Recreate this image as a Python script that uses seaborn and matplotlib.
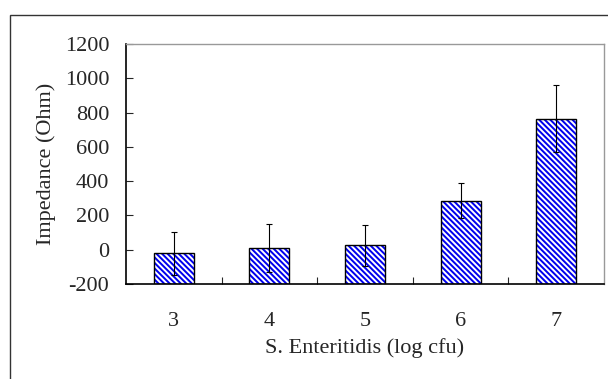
#!/usr/bin/env python3
# -*- coding: utf-8 -*-
"""
Impedance response vs S. Enteritidis concentration, hatched bars with error bars
"""

import matplotlib.pyplot as plt
import numpy as np
import pandas as pd
import seaborn as sns
from matplotlib.patches import Rectangle
from matplotlib.ticker import FixedLocator

# data
log_cfu = ["3", "4", "5", "6", "7"]
impedance = [-20, 10, 25, 285, 765]
impedance_err = [125, 140, 120, 102, 197]
y_ticks = [-200, 0, 200, 400, 600, 800, 1000, 1200]
baseline = -200

sns.set_style("white")
plt.rcParams["font.family"] = ["Liberation Serif", "DejaVu Serif"]
plt.rcParams["hatch.linewidth"] = 1.4

df = pd.DataFrame({"cfu": log_cfu, "imp": impedance})

fig = plt.figure(figsize=(6.08, 3.79), dpi=100)
ax = fig.add_axes([126 / 608, 1 - 284 / 379, (604 - 126) / 608, (284 - 44) / 379])

# blue face with white stripes
sns.barplot(
    data=df, x="cfu", y="imp", ax=ax, color="#0000ee", saturation=1,
    width=0.42, errorbar=None, hatch="\\" * 6, edgecolor="white", linewidth=0,
)
# black outline on top
sns.barplot(
    data=df, x="cfu", y="imp", ax=ax, color="black", fill=False,
    width=0.42, errorbar=None, linewidth=1.0,
)
# bars start from the axis floor (-200) like the original spreadsheet chart
for i, patch in enumerate(ax.patches):
    v = impedance[i % len(impedance)]
    patch.set_y(baseline)
    patch.set_height(v - baseline)

ax.errorbar(
    np.arange(len(log_cfu)), impedance, yerr=impedance_err, fmt="none",
    ecolor="black", elinewidth=0.8, capsize=2, capthick=0.8,
)

ax.set_ylim(-200, 1200)
ax.set_xlim(-0.5, len(log_cfu) - 0.5)
ax.set_yticks(y_ticks)
ax.set_yticklabels([str(t) for t in y_ticks])
ax.tick_params(axis="y", direction="in", length=5, width=0.8, labelsize=16, pad=12, left=True)
ax.tick_params(axis="x", which="major", length=0, labelsize=16, pad=20)
ax.xaxis.set_minor_locator(FixedLocator(np.arange(0.5, len(log_cfu) - 0.5, 1)))
ax.tick_params(axis="x", which="minor", direction="in", length=5, width=0.8, bottom=True)

ax.set_xlabel("S. Enteritidis (log cfu)", fontsize=16, labelpad=5)
ax.set_ylabel("Impedance (Ohm)", fontsize=16, labelpad=6)

for side in ["left", "bottom"]:
    ax.spines[side].set_color("black")
    ax.spines[side].set_linewidth(1.2)
for side in ["top", "right"]:
    ax.spines[side].set_color("#999999")
    ax.spines[side].set_linewidth(1.0)

# outer chart frame, cut off on the right and bottom like the reference
fig.patches.append(
    Rectangle((10 / 608, -0.1), 1.2, 1 - 15 / 379 + 0.1, transform=fig.transFigure,
              fill=False, edgecolor="#333333", linewidth=1.0)
)

fig.savefig("out.png", dpi=100)
